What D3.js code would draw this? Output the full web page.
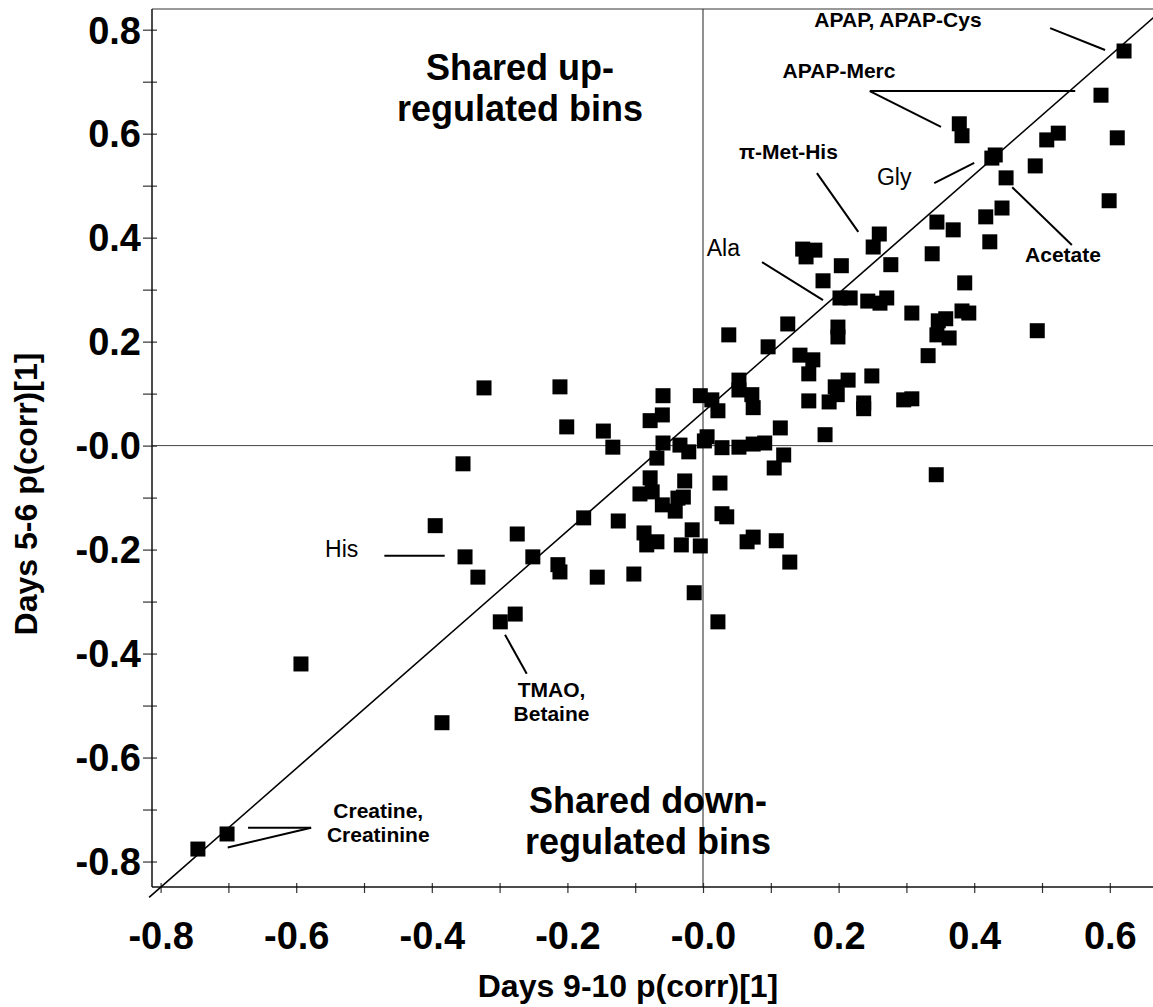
<!DOCTYPE html>
<html>
<head>
<meta charset="utf-8">
<script src="https://cdn.jsdelivr.net/npm/d3@7"></script>
<style>
  html, body { margin: 0; padding: 0; background: #fff; }
  svg { display: block; font-family: "Liberation Sans", Arial, Helvetica, sans-serif; }
</style>
</head>
<body>
<svg id="chart" width="1153" height="1007"></svg>
<script>
// p(corr)[1] loading of each spectral bin: Days 9-10 (x) vs Days 5-6 (y)
const days910 = [
  0.621, 0.587, 0.378, 0.382, 0.611, 0.507, 0.524, 0.431, 0.426, 0.490,
  0.447, 0.599, 0.441, 0.417, 0.345, 0.369, 0.423, 0.260, 0.251, 0.338,
  0.147, 0.165, 0.152, 0.204, 0.277, 0.177, 0.386, 0.202, 0.217, 0.243,
  0.271, 0.261, 0.308, 0.347, 0.358, 0.382, 0.392, 0.493, 0.125, 0.038,
  0.199, 0.199, 0.345, 0.363, 0.096, 0.332, 0.143, 0.162, 0.156, 0.053,
  0.053, 0.072, 0.074, 0.214, 0.195, 0.198, 0.186, 0.249, 0.237, 0.237,
  0.156, 0.296, 0.308, -0.004, 0.013, 0.022, 0.114, 0.180, 0.006, 0.002,
  -0.034, -0.021, 0.028, 0.053, 0.074, 0.091, 0.119, 0.105, 0.344, -0.027,
  0.025, -0.029, -0.201, -0.147, -0.078, -0.060, -0.059, -0.059, -0.133, -0.068,
  -0.354, -0.078, -0.093, -0.075, -0.037, -0.060, -0.041, 0.028, 0.035, -0.176,
  -0.125, -0.395, -0.274, -0.087, -0.016, -0.083, -0.068, -0.032, -0.004, -0.351,
  -0.251, -0.214, -0.211, -0.332, -0.156, -0.102, -0.013, -0.277, -0.299, 0.022,
  -0.593, -0.385, -0.745, -0.702, -0.323, -0.211, 0.074, 0.065, 0.108, 0.128
];
const days56 = [
  0.759, 0.674, 0.619, 0.596, 0.592, 0.588, 0.601, 0.559, 0.553, 0.538,
  0.515, 0.471, 0.457, 0.440, 0.430, 0.415, 0.392, 0.407, 0.382, 0.369,
  0.378, 0.376, 0.363, 0.346, 0.348, 0.317, 0.313, 0.284, 0.284, 0.278,
  0.284, 0.274, 0.255, 0.240, 0.244, 0.259, 0.255, 0.221, 0.234, 0.213,
  0.228, 0.209, 0.213, 0.207, 0.190, 0.173, 0.174, 0.165, 0.138, 0.126,
  0.107, 0.098, 0.073, 0.126, 0.113, 0.098, 0.084, 0.134, 0.082, 0.071,
  0.086, 0.088, 0.090, 0.096, 0.088, 0.067, 0.034, 0.021, 0.017, 0.009,
  0.001, -0.012, -0.004, -0.003, 0.003, 0.005, -0.018, -0.043, -0.056, -0.068,
  -0.072, -0.099, 0.036, 0.028, 0.048, 0.059, 0.096, 0.005, -0.003, -0.024,
  -0.035, -0.062, -0.093, -0.089, -0.101, -0.114, -0.126, -0.131, -0.137, -0.139,
  -0.145, -0.154, -0.170, -0.168, -0.162, -0.191, -0.185, -0.191, -0.193, -0.214,
  -0.214, -0.229, -0.243, -0.253, -0.253, -0.247, -0.283, -0.324, -0.339, -0.339,
  -0.420, -0.533, -0.776, -0.747, 0.111, 0.113, -0.176, -0.185, -0.183, -0.224
];

// Reference line through the cloud: two end points [x, y]
const diagonal = [[-0.817, -0.869], [0.68, 0.841]];

const xTicks = d3.range(-8, 7).map(i => i / 10);
const yTicks = d3.range(-8, 9).map(i => i / 10);

const xTitle = "Days 9-10 p(corr)[1]";
const yTitle = "Days 5-6 p(corr)[1]";

// Named metabolite call-outs (anchor in data units)
const callouts = [
  { lines: ["APAP, APAP-Cys"], x: 0.2876, y: 0.805, bold: true },
  { lines: ["APAP-Merc"], x: 0.2006, y: 0.707, bold: true },
  { lines: ["\u03C0-Met-His"], x: 0.126, y: 0.551, bold: true },
  { lines: ["Gly"], x: 0.282, y: 0.501, bold: false },
  { lines: ["Acetate"], x: 0.531, y: 0.353, bold: true },
  { lines: ["Ala"], x: 0.030, y: 0.365, bold: false },
  { lines: ["His"], x: -0.533, y: -0.214, bold: false },
  { lines: ["TMAO,", "Betaine"], x: -0.2235, y: -0.483, bold: true },
  { lines: ["Creatine,", "Creatinine"], x: -0.479, y: -0.716, bold: true }
];
const leaders = [
  [[0.512, 0.803], [0.593, 0.761]],
  [[0.246, 0.682], [0.549, 0.682]],
  [[0.246, 0.682], [0.351, 0.613]],
  [[0.168, 0.524], [0.229, 0.411]],
  [[0.341, 0.505], [0.400, 0.544]],
  [[0.456, 0.497], [0.544, 0.386]],
  [[0.087, 0.353], [0.177, 0.280]],
  [[-0.470, -0.212], [-0.381, -0.212]],
  [[-0.292, -0.364], [-0.260, -0.439]],
  [[-0.671, -0.735], [-0.578, -0.735]],
  [[-0.578, -0.735], [-0.701, -0.773]]
];
const quadrantTitles = [
  { lines: ["Shared up-", "regulated bins"], x: -0.270, y: 0.703 },
  { lines: ["Shared down-", "regulated bins"], x: -0.081, y: -0.706 }
];

// ---------------------------------------------------------------
const svg = d3.select("#chart");
const plotLeft = 152, plotRight = 1153, plotTop = 9, plotBottom = 887;

const x = d3.scaleLinear().domain([-0.8127, 0.6637]).range([plotLeft, plotRight]);
const y = d3.scaleLinear().domain([-0.849, 0.8398]).range([plotBottom, plotTop]);

const fmt = v => (Math.abs(v) < 1e-9 ? "-0.0" : v.toFixed(1));
const isMajor = v => Math.round(v * 10) % 2 === 0;

// frame: top border
svg.append("line")
  .attr("x1", plotLeft).attr("x2", plotRight).attr("y1", plotTop).attr("y2", plotTop)
  .attr("stroke", "#777").attr("stroke-width", 1.5);

// zero lines
svg.append("line")
  .attr("x1", plotLeft).attr("x2", plotRight).attr("y1", y(0)).attr("y2", y(0))
  .attr("stroke", "#444").attr("stroke-width", 1);
svg.append("line")
  .attr("x1", x(0)).attr("x2", x(0)).attr("y1", plotTop).attr("y2", plotBottom)
  .attr("stroke", "#222").attr("stroke-width", 1);

// x axis
const gx = svg.append("g")
  .attr("transform", `translate(0,${plotBottom})`)
  .call(d3.axisBottom(x).tickValues(xTicks).tickSize(6)
    .tickFormat(v => (isMajor(v) ? fmt(v) : "")));
gx.select(".domain").remove();
gx.selectAll(".tick line").attr("y1", -4).attr("y2", 6)
  .attr("stroke", "#333").attr("stroke-width", 1.2);
gx.selectAll(".tick text")
  .attr("y", 62).attr("dy", null)
  .attr("font-size", 38).attr("font-weight", "bold")
  .attr("font-family", "Liberation Sans, Arial, sans-serif")
  .attr("fill", "#000");
svg.append("line")
  .attr("x1", plotLeft).attr("x2", plotRight).attr("y1", plotBottom).attr("y2", plotBottom)
  .attr("stroke", "#111").attr("stroke-width", 1.5);

// y axis
const gy = svg.append("g")
  .attr("transform", `translate(${plotLeft},0)`)
  .call(d3.axisLeft(y).tickValues(yTicks).tickSize(8)
    .tickFormat(v => (isMajor(v) ? fmt(v) : "")));
gy.select(".domain").remove();
gy.selectAll(".tick line").attr("x1", -9).attr("x2", 5)
  .attr("stroke", "#333").attr("stroke-width", 1.2);
gy.selectAll(".tick text")
  .attr("x", -11).attr("dy", "0.35em")
  .attr("font-size", 38).attr("font-weight", "bold")
  .attr("font-family", "Liberation Sans, Arial, sans-serif")
  .attr("fill", "#000");
svg.append("line")
  .attr("x1", plotLeft).attr("x2", plotLeft).attr("y1", plotTop).attr("y2", plotBottom)
  .attr("stroke", "#111").attr("stroke-width", 1.5);

// axis titles
svg.append("text")
  .attr("x", 628).attr("y", 997)
  .attr("text-anchor", "middle")
  .attr("font-size", 32).attr("font-weight", "bold")
  .text(xTitle);
svg.append("text")
  .attr("transform", "translate(37,494) rotate(-90)")
  .attr("text-anchor", "middle")
  .attr("font-size", 32).attr("font-weight", "bold")
  .text(yTitle);

// reference diagonal
svg.append("line")
  .attr("x1", x(diagonal[0][0])).attr("y1", y(diagonal[0][1]))
  .attr("x2", x(diagonal[1][0])).attr("y2", y(diagonal[1][1]))
  .attr("stroke", "#000").attr("stroke-width", 1.6);

// bins
const size = 15;
svg.append("g").selectAll("rect")
  .data(d3.zip(days910, days56))
  .join("rect")
  .attr("x", d => x(d[0]) - size / 2)
  .attr("y", d => y(d[1]) - size / 2)
  .attr("width", size).attr("height", size)
  .attr("fill", "#000");

// leader lines
svg.append("g").selectAll("line")
  .data(leaders)
  .join("line")
  .attr("x1", d => x(d[0][0])).attr("y1", d => y(d[0][1]))
  .attr("x2", d => x(d[1][0])).attr("y2", d => y(d[1][1]))
  .attr("stroke", "#000").attr("stroke-width", 2);

// call-out labels
callouts.forEach(c => {
  const t = svg.append("text")
    .attr("text-anchor", "middle")
    .attr("font-size", c.bold ? 21 : 23)
    .attr("font-weight", c.bold ? "bold" : "normal")
    .attr("fill", "#000");
  c.lines.forEach((line, i) => {
    t.append("tspan")
      .attr("x", x(c.x))
      .attr("y", y(c.y) + i * 24.5)
      .text(line);
  });
});

// quadrant titles
quadrantTitles.forEach(q => {
  const t = svg.append("text")
    .attr("text-anchor", "middle")
    .attr("font-size", 36).attr("font-weight", "bold")
    .attr("fill", "#000");
  q.lines.forEach((line, i) => {
    t.append("tspan")
      .attr("x", x(q.x))
      .attr("y", y(q.y) + i * 41)
      .text(line);
  });
});
</script>
</body>
</html>
